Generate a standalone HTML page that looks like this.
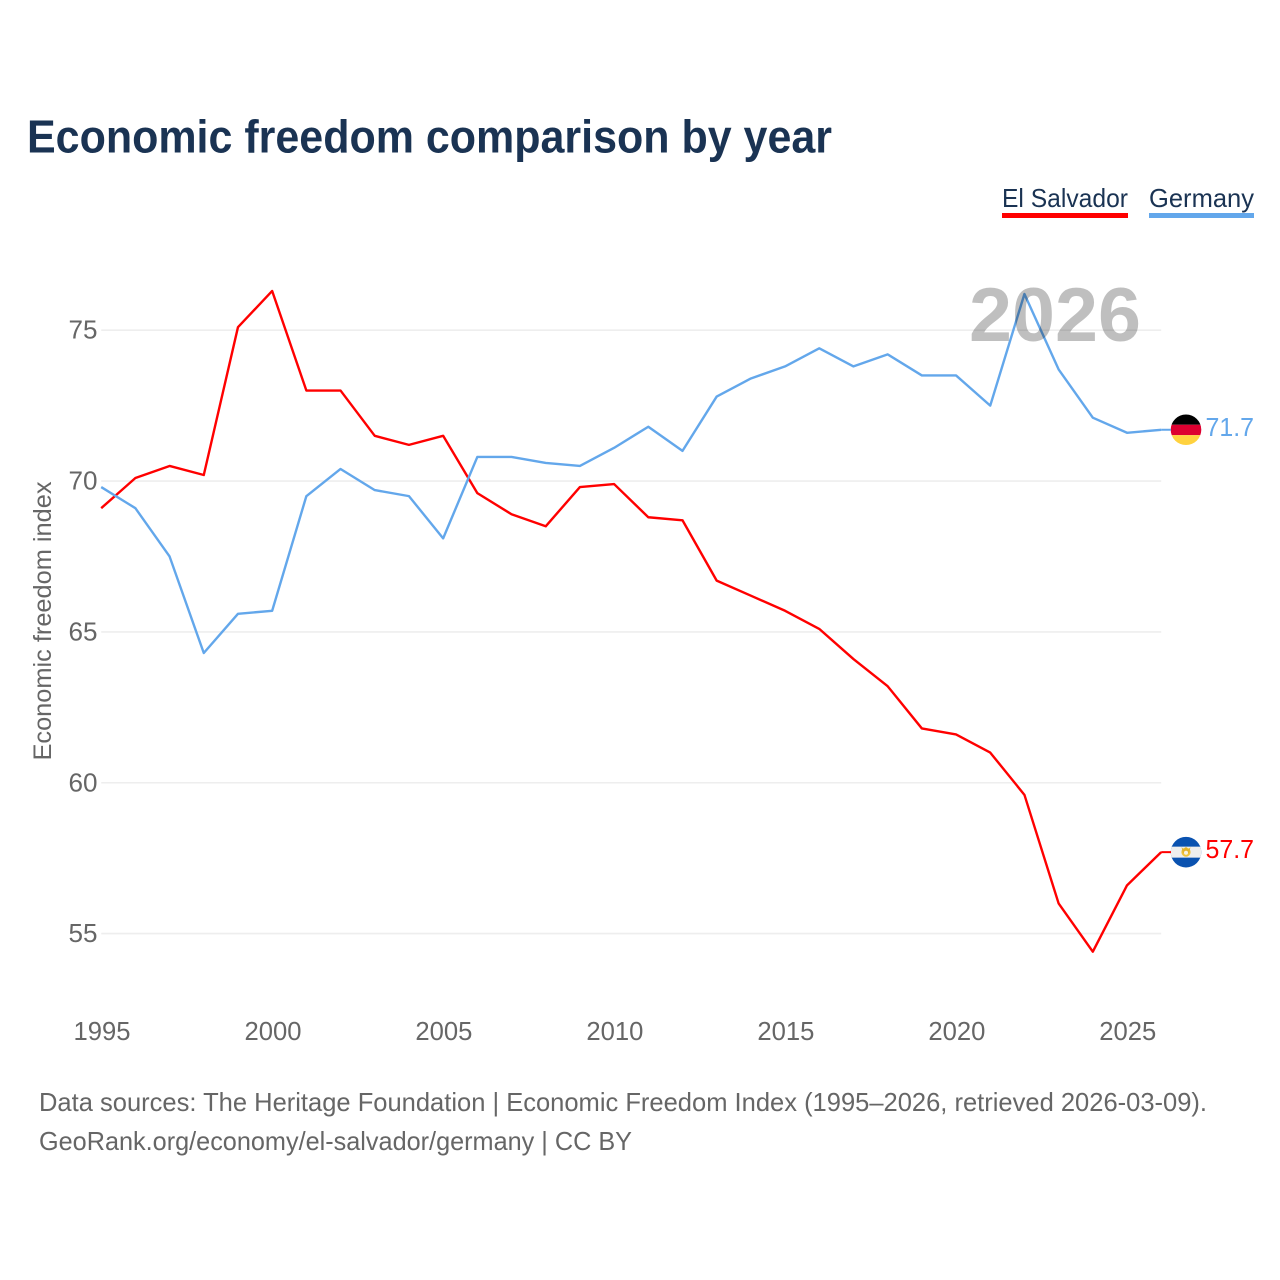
<!DOCTYPE html>
<html lang="en">
<head>
<meta charset="utf-8">
<title>Economic freedom comparison by year</title>
<style>
html,body{margin:0;padding:0;background:#fff;width:1280px;height:1280px;overflow:hidden}
svg{display:block}
text{font-family:"Liberation Sans",sans-serif}
</style>
</head>
<body>
<svg id="chart" width="1280" height="1280" viewBox="0 0 1280 1280" xmlns="http://www.w3.org/2000/svg">
  <defs>
    <clipPath id="flag-clip"><circle cx="0" cy="0" r="15.3"></circle></clipPath>
  </defs>
  <rect x="0" y="0" width="1280" height="1280" fill="#fff"></rect>
  <text x="27" y="152.5" font-size="46" font-weight="700" fill="#1a3353" textLength="805" lengthAdjust="spacingAndGlyphs">Economic freedom comparison by year</text>

  <g>
    <g>
      <text x="1002" y="207" font-size="26" fill="#1a3353" textLength="126" lengthAdjust="spacingAndGlyphs">El Salvador</text>
      <rect x="1002" y="213" width="126" height="5" fill="#ff0000"></rect>
    </g>
    <g>
      <text x="1149" y="207" font-size="26" fill="#1a3353" textLength="105" lengthAdjust="spacingAndGlyphs">Germany</text>
      <rect x="1149" y="213" width="105" height="5" fill="#63a7eb"></rect>
    </g>
  </g>

  <g id="grid"></g>
  <g id="y-ticks"></g>
  <g id="x-ticks"></g>
  <text transform="translate(51,621) rotate(-90)" text-anchor="middle" font-size="25" fill="#666" textLength="279" lengthAdjust="spacingAndGlyphs">Economic freedom index</text>

  <g id="series"></g>
  <text x="969" y="341" font-size="76" font-weight="700" fill="#000" fill-opacity="0.25" textLength="172" lengthAdjust="spacingAndGlyphs">2026</text>
  <g id="ends"></g>

  <g>
    <text x="39" y="1111" font-size="26" fill="#666" textLength="1168" lengthAdjust="spacingAndGlyphs">Data sources: The Heritage Foundation | Economic Freedom Index (1995–2026, retrieved 2026-03-09).</text>
    <text x="39" y="1150" font-size="26" fill="#666" textLength="593" lengthAdjust="spacingAndGlyphs">GeoRank.org/economy/el-salvador/germany | CC BY</text>
  </g>
</svg>
<script>
const years = [1995,1996,1997,1998,1999,2000,2001,2002,2003,2004,2005,2006,2007,2008,2009,2010,2011,2012,2013,2014,2015,2016,2017,2018,2019,2020,2021,2022,2023,2024,2025,2026];
const elSalvador = [69.1,70.1,70.5,70.2,75.1,76.3,73.0,73.0,71.5,71.2,71.5,69.6,68.9,68.5,69.8,69.9,68.8,68.7,66.7,66.2,65.7,65.1,64.1,63.2,61.8,61.6,61.0,59.6,56.0,54.4,56.6,57.7];
const germany = [69.8,69.1,67.5,64.3,65.6,65.7,69.5,70.4,69.7,69.5,68.1,70.8,70.8,70.6,70.5,71.1,71.8,71.0,72.8,73.4,73.8,74.4,73.8,74.2,73.5,73.5,72.5,76.2,73.7,72.1,71.6,71.7];
const yTicks = [55,60,65,70,75];
const xTicks = [1995,2000,2005,2010,2015,2020,2025];

const NS = 'http://www.w3.org/2000/svg';
const X0 = 101.2, X1 = 1161.2, Y55 = 933.6, Y75 = 330.2;
function xScale(year) {
  return X0 + (year - years[0]) * (X1 - X0) / (years[years.length - 1] - years[0]);
}
function yScale(value) {
  return Y55 + (value - 55) * (Y75 - Y55) / 20;
}
function make(tag, attrs, parent) {
  const el = document.createElementNS(NS, tag);
  for (const k in attrs) el.setAttribute(k, attrs[k]);
  parent.appendChild(el);
  return el;
}

const grid = document.getElementById('grid');
const yG = document.getElementById('y-ticks');
const xG = document.getElementById('x-ticks');
const seriesG = document.getElementById('series');
const endsG = document.getElementById('ends');

yTicks.forEach(function (t) {
  const line = make('line', {x1: X0, x2: X1, y1: yScale(t), y2: yScale(t), stroke: '#eeeeee', 'stroke-width': 1.6}, grid);
  
  
  const label = make('text', {x: 97.5, y: yScale(t) + 8.5, 'text-anchor': 'end', 'font-size': 26, fill: '#666', textLength: 29, lengthAdjust: 'spacingAndGlyphs'}, yG);
  label.textContent = t;
  
  
});

xTicks.forEach(function (t) {
  const label = make('text', {x: xScale(t) + 0.8, y: 1040, 'text-anchor': 'middle', 'font-size': 26, fill: '#666', textLength: 57, lengthAdjust: 'spacingAndGlyphs'}, xG);
  label.textContent = t;
  
  
});

function linePath(values) {
  return values.map(function (v, i) {
    return (i ? 'L' : 'M') + xScale(years[i]).toFixed(2) + ' ' + yScale(v).toFixed(2);
  }).join(' ');
}

const redLine = make('path', {d: linePath(elSalvador), fill: 'none', stroke: '#ff0000', 'stroke-width': 2.4, 'stroke-linejoin': 'round'}, seriesG);


const blueLine = make('path', {d: linePath(germany), fill: 'none', stroke: '#63a7eb', 'stroke-width': 2.4, 'stroke-linejoin': 'round'}, seriesG);



function flagGroup(cy) {
  const g = make('g', {transform: 'translate(1186,' + cy.toFixed(2) + ')'}, endsG);
  return make('g', {'clip-path': 'url(#flag-clip)'}, g);
}

const lastRed = elSalvador[elSalvador.length - 1];
const lastBlue = germany[germany.length - 1];
const redY = yScale(lastRed);
const blueY = yScale(lastBlue);

const blueFlag = flagGroup(blueY);


make('rect', {x: -16, y: -16, width: 32, height: 11, fill: '#000'}, blueFlag);
make('rect', {x: -16, y: -5, width: 32, height: 10.4, fill: '#dd0030'}, blueFlag);
make('rect', {x: -16, y: 5.4, width: 32, height: 11, fill: '#ffd23f'}, blueFlag);

const redFlag = flagGroup(redY);


make('rect', {x: -16, y: -16, width: 32, height: 32, fill: '#0a52b0'}, redFlag);
make('rect', {x: -16, y: -5.5, width: 32, height: 11, fill: '#eeeeee'}, redFlag);
make('circle', {cx: 0, cy: 0, r: 4.6, fill: '#f0c33c'}, redFlag);
make('polygon', {points: '-4.5,-5 -2,-2.5 0,-5.5 2,-2.5 4.5,-5 3,1 -3,1', fill: '#e2b32f'}, redFlag);
make('circle', {cx: 0, cy: 0.6, r: 2, fill: '#f6f2e4'}, redFlag);

const blueLabel = make('text', {x: 1205.5, y: blueY + 6, 'font-size': 26, fill: '#63a7eb', textLength: 48.5, lengthAdjust: 'spacingAndGlyphs'}, endsG);
blueLabel.textContent = lastBlue.toFixed(1);


const redLabel = make('text', {x: 1205.5, y: redY + 6, 'font-size': 26, fill: '#ff0000', textLength: 48.5, lengthAdjust: 'spacingAndGlyphs'}, endsG);
redLabel.textContent = lastRed.toFixed(1);



const blueStub = make('line', {x1: X1, x2: 1171, y1: blueY, y2: blueY, stroke: '#63a7eb', 'stroke-width': 2}, endsG);


const redStub = make('line', {x1: X1, x2: 1171, y1: redY, y2: redY, stroke: '#ff0000', 'stroke-width': 2}, endsG);


</script>
</body>
</html>
